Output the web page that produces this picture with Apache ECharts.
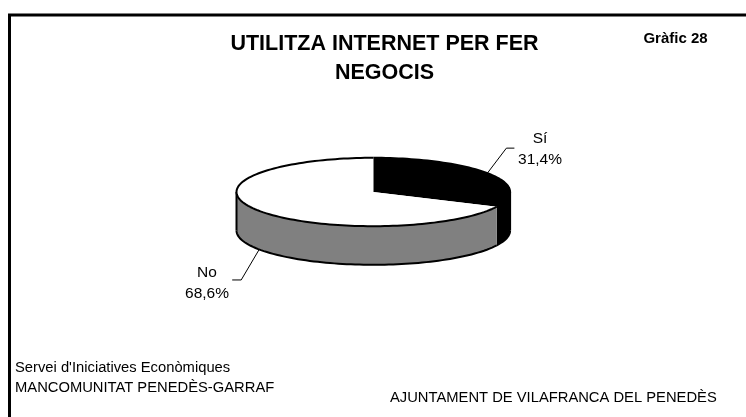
<!DOCTYPE html>
<html>
<head>
<meta charset="utf-8">
<style>
  html, body { margin: 0; padding: 0; background: #fff; }
  #chart { width: 746px; height: 417px; }
</style>
</head>
<body>
<div id="chart"></div>
<script src="https://cdn.jsdelivr.net/npm/echarts@6/dist/echarts.min.js"></script>
<script>
const categories = ["Sí", "No"];
const shares = [31.4, 68.6];
const topColors = ["#000000", "#ffffff"];
const wallColors = ["#000000", "#808080"];
const leaderOffsets = [[19, -25, 8], [-18, 30.5, -9]];
const labelSpots = [[540, 149.5], [207, 283.5]];

const FONT = '"Liberation Sans", Arial, sans-serif';
const CX = 373.3, CY = 192, RX = 136.8, RY = 34.2, DEPTH = 38.6;
// the tilted disc squeezes angles a little towards the sides
const TILT = 1.12;

// angle in degrees, 0 at 12 o'clock going clockwise
function rim(deg, drop) {
  const a = deg * Math.PI / 180;
  const p = Math.atan2(Math.sin(a), TILT * Math.cos(a));
  return [CX + RX * Math.sin(p), CY - RY * Math.cos(p) + (drop || 0)];
}

function arc(from, to, drop) {
  const pts = [];
  const n = Math.max(2, Math.ceil(Math.abs(to - from) / 2));
  for (let i = 0; i <= n; i++) pts.push(rim(from + (to - from) * i / n, drop));
  return pts;
}

function startAngle(idx) {
  let sum = 0;
  for (let i = 0; i < idx; i++) sum += shares[i];
  return sum * 3.6;
}

function renderSlice(params, api) {
  const idx = api.value(0);
  const from = startAngle(idx);
  const to = from + api.value(1) * 3.6;
  const children = [];

  // outer wall, only the front half of the disc shows
  const wFrom = Math.max(from, 90), wTo = Math.min(to, 270);
  if (wTo > wFrom) {
    children.push({
      type: "polygon",
      shape: { points: arc(wFrom, wTo, 0).concat(arc(wTo, wFrom, DEPTH)) },
      style: { fill: wallColors[idx] }
    });
    children.push({
      type: "polyline",
      shape: { points: arc(wFrom, wTo, DEPTH) },
      style: { fill: null, stroke: "#000", lineWidth: 2 }
    });
    if (wTo === 270) {
      children.push({
        type: "line",
        shape: { x1: CX - RX, y1: CY, x2: CX - RX, y2: CY + DEPTH },
        style: { stroke: "#000", lineWidth: 2 }
      });
    }
    if (wFrom === 90) {
      children.push({
        type: "line",
        shape: { x1: CX + RX, y1: CY, x2: CX + RX, y2: CY + DEPTH },
        style: { stroke: "#000", lineWidth: 2 }
      });
    }
  }

  // top face
  children.push({
    type: "polygon",
    shape: { points: [[CX, CY]].concat(arc(from, to, 0)) },
    style: { fill: topColors[idx] }
  });
  children.push({
    type: "polyline",
    shape: { points: arc(from, to, 0) },
    style: { fill: null, stroke: "#000", lineWidth: 2, lineJoin: "round" }
  });

  // leader line from the middle of the slice
  const mid = (from + to) / 2;
  const a = mid * Math.PI / 180;
  const start = [CX + RX * Math.sin(a), CY - RY * Math.cos(a) + (mid > 90 && mid < 270 ? DEPTH : 0)];
  const off = leaderOffsets[idx];
  const elbow = [start[0] + off[0], start[1] + off[1]];
  children.push({
    type: "polyline",
    shape: { points: [start, elbow, [elbow[0] + off[2], elbow[1]]] },
    style: { fill: null, stroke: "#000", lineWidth: 1 }
  });

  // data label
  children.push({
    type: "text",
    style: {
      x: labelSpots[idx][0],
      y: labelSpots[idx][1],
      text: categories[idx] + "\n" + api.value(1).toFixed(1).replace(".", ",") + "%",
      font: "15.5px " + FONT,
      lineHeight: 21,
      fill: "#000",
      align: "center",
      verticalAlign: "middle"
    }
  });

  return { type: "group", children: children };
}

const chart = echarts.init(document.getElementById("chart"), null, { renderer: "canvas" });

function footText(x, y, text) {
  return {
    type: "text",
    x: x,
    y: y,
    style: { text: text, font: "14.75px " + FONT, fill: "#000", verticalAlign: "middle" }
  };
}

chart.setOption({
  animation: false,
  backgroundColor: "#fff",
  graphic: [
    {
      type: "polyline",
      shape: { points: [[9.5, 417], [9.5, 15], [746, 15]] },
      style: { fill: null, stroke: "#000", lineWidth: 3 }
    },
    {
      type: "text",
      x: 384.5,
      y: 58.5,
      style: {
        text: "UTILITZA INTERNET PER FER\nNEGOCIS",
        font: "bold 21.5px " + FONT,
        lineHeight: 28.5,
        fill: "#000",
        align: "center",
        verticalAlign: "middle"
      }
    },
    {
      type: "text",
      x: 675.5,
      y: 38.5,
      style: { text: "Gràfic 28", font: "bold 15px " + FONT, fill: "#000", align: "center", verticalAlign: "middle" }
    },
    footText(15, 368, "Servei d'Iniciatives Econòmiques"),
    footText(15, 388, "MANCOMUNITAT PENEDÈS-GARRAF"),
    footText(390, 398, "AJUNTAMENT DE VILAFRANCA DEL PENEDÈS")
  ],
  series: [
    {
      type: "custom",
      coordinateSystem: "none",
      clip: false,
      renderItem: renderSlice,
      encode: { value: [1] },
      data: categories.map((c, i) => ({ name: c, value: [i, shares[i]] }))
    }
  ]
});
</script>
</body>
</html>
